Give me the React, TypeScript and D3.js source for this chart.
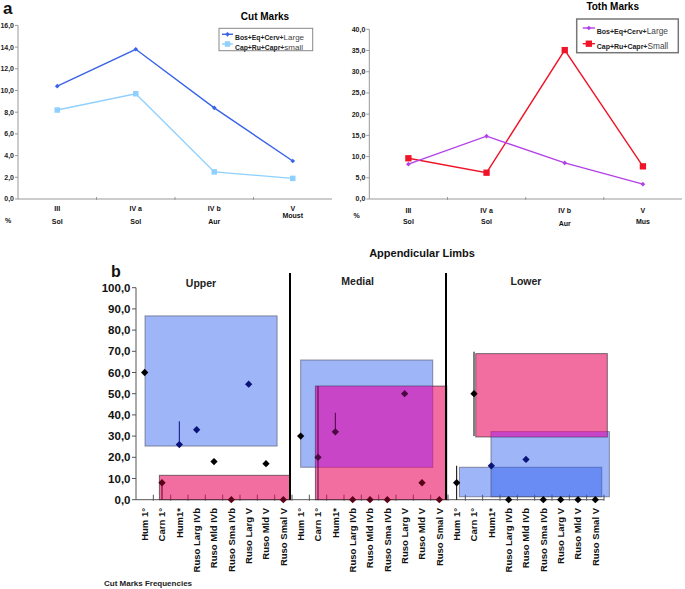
import React from "react";
import * as d3 from "d3";

// ---------- Data: top charts ----------
const periods = ["III", "IV a", "IV b", "V"];
const cutSites = ["Sol", "Sol", "Aur", "Moust"];
const tothSites = ["Sol", "Sol", "Aur", "Mus"];
const cutLarge = [10.4, 13.8, 8.4, 3.5];
const cutSmall = [8.2, 9.7, 2.5, 1.9];
const tothLarge = [8.2, 14.8, 8.5, 3.5];
const tothSmall = [9.6, 6.2, 35.1, 7.7];
const cutTicks = [0, 2, 4, 6, 8, 10, 12, 14, 16];
const tothTicks = [0, 5, 10, 15, 20, 25, 30, 35, 40];

// ---------- Data: appendicular limbs ----------
const limbCats = ["Hum 1°", "Carn 1°", "Hum1*", "Ruso Larg IVb", "Ruso Mld IVb", "Ruso Sma IVb", "Ruso Larg V", "Ruso Mld V", "Ruso Smal V"];
const limbGroups = ["Upper", "Medial", "Lower"];
const upperVals = [60, 8, 26, 33, 18, 0, 54.5, 17, 0];
const medialVals = [30, 20, 32, 0, 0, 0, 50, 8, 0];
const lowerVals = [8, 50, 16, 0, 19, 0, 0, 0, 0];
// whiskers: [category position index, low, high]
const whiskers: [number, number, number][] = [
  [1, 0, 8], [2, 26, 37], [10, 0, 53.6], [11, 32, 41], [18, 0, 16], [19, 30, 69.8],
];
// boxes: [start position, end position, low, high] (position in category units)
const blueBoxes: [number, number, number, number][] = [
  [0.52, 8.14, 25.3, 86.7],
  [9.5, 17.12, 15.3, 65.9],
  [18.66, 26.87, 1.4, 15.3],
  [20.48, 27.31, 1.4, 32.1],
];
const pinkBoxes: [number, number, number, number][] = [
  [1.35, 8.89, 0, 11.5],
  [10.35, 17.93, 0, 53.6],
  [19.6, 27.19, 29.6, 68.9],
];
const limbTicks = [0, 10, 20, 30, 40, 50, 60, 70, 80, 90, 100];

const FONT = "'Liberation Sans', Arial, sans-serif";
const fmt = (v: number) => v.toFixed(1).replace(".", ",");

const diamondType = {
  draw(ctx: any, size: number) {
    const r = Math.sqrt(size) / 1.6;
    ctx.moveTo(0, -r);
    ctx.lineTo(r, 0);
    ctx.lineTo(0, r);
    ctx.lineTo(-r, 0);
    ctx.closePath();
  },
};
const diamond = (size: number) => d3.symbol(diamondType as any, size)() || "";
const square = (size: number) => d3.symbol(d3.symbolSquare, size)() || "";

type LineChartProps = {
  x0: number; x1: number; yTop: number; yBot: number; max: number; ticks: number[];
  large: number[]; small: number[]; sites: string[];
  largeColor: string; smallColor: string; largeMarker: string; smallMarker: string;
  title: string; titleX: number; titleY: number;
  legend: { x0: number; x1: number; y0: number; y1: number; rows: number[]; lx0: number; lx1: number; tx: number; stroke: string; sw: number; smallLabel: string; boldSize: number; normSize: number };
  pct: [number, number]; row1: number; row2: number; special: Record<string, number>;
};

function LineChart(p: LineChartProps) {
  const x = d3.scaleBand<string>().domain(periods).range([p.x0, p.x1]);
  const y = d3.scaleLinear().domain([0, p.max]).range([p.yBot, p.yTop]);
  const cx = (c: string) => (x(c) as number) + x.bandwidth() / 2;
  const line = d3.line<number>().x((_, i) => cx(periods[i])).y((d) => y(d));
  const lg = p.legend;
  return (
    <g fontFamily={FONT}>
      <text x={p.titleX} y={p.titleY} fontSize={10} fontWeight="bold" textAnchor="middle">{p.title}</text>
      {/* y axis */}
      <line x1={p.x0} x2={p.x0} y1={y(p.max)} y2={y(0)} stroke="#999" />
      {p.ticks.map((t) => (
        <g key={t}>
          <line x1={p.x0 - 3} x2={p.x0} y1={y(t)} y2={y(t)} stroke="#999" />
          <text x={p.x0 - 4} y={y(t)} dy="0.35em" fontSize={7} fontWeight="bold" textAnchor="end" fill="#222">{fmt(t)}</text>
        </g>
      ))}
      {/* x axis */}
      <line x1={p.x0} x2={p.x1} y1={y(0)} y2={y(0)} stroke="#999" />
      {periods.slice(1).map((c) => (
        <line key={c} x1={x(c)} x2={x(c)} y1={y(0) - 2} y2={y(0) + 1} stroke="#999" />
      ))}
      {periods.map((c, i) => (
        <g key={c}>
          <text x={cx(c)} y={p.row1} fontSize={7} fontWeight="bold" textAnchor="middle" fill="#111">{c}</text>
          <text x={cx(c)} y={p.special[p.sites[i]] ?? p.row2} fontSize={7} fontWeight="bold" textAnchor="middle" fill="#111">{p.sites[i]}</text>
        </g>
      ))}
      <text x={p.pct[0]} y={p.pct[1]} fontSize={7} fontWeight="bold" textAnchor="middle" fill="#111">%</text>
      {/* series */}
      <path d={line(p.small) || ""} fill="none" stroke={p.smallColor} strokeWidth={1.4} />
      <path d={line(p.large) || ""} fill="none" stroke={p.largeColor} strokeWidth={1.4} />
      {p.small.map((v, i) => (
        <path key={"s" + i} transform={`translate(${cx(periods[i])},${y(v)})`} d={p.smallMarker} fill={p.smallColor} />
      ))}
      {p.large.map((v, i) => (
        <path key={"l" + i} transform={`translate(${cx(periods[i])},${y(v)})`} d={p.largeMarker} fill={p.largeColor} />
      ))}
      {/* legend */}
      <rect x={lg.x0} y={lg.y0} width={lg.x1 - lg.x0} height={lg.y1 - lg.y0} fill="white" stroke={lg.stroke} strokeWidth={lg.sw} />
      {[
        { c: p.largeColor, m: p.largeMarker, bold: "Bos+Eq+Cerv+", norm: "Large" },
        { c: p.smallColor, m: p.smallMarker, bold: "Cap+Ru+Capr+", norm: lg.smallLabel },
      ].map((r, i) => (
        <g key={i}>
          <line x1={lg.lx0} x2={lg.lx1} y1={lg.rows[i]} y2={lg.rows[i]} stroke={r.c} strokeWidth={1.4} />
          <path transform={`translate(${(lg.lx0 + lg.lx1) / 2},${lg.rows[i]})`} d={r.m} fill={r.c} />
          <text x={lg.tx} y={lg.rows[i]} dy="0.35em" fill="#222">
            <tspan fontSize={lg.boldSize} fontWeight="bold">{r.bold}</tspan>
            <tspan fontSize={lg.normSize} fill="#444">{r.norm}</tspan>
          </text>
        </g>
      ))}
    </g>
  );
}

function LimbChart() {
  const n = limbCats.length * limbGroups.length;
  const allCats = limbGroups.flatMap((g) => limbCats.map((c) => `${g}|${c}`));
  const xb = d3.scaleBand<string>().domain(allCats).range([136, 604]);
  const xp = d3.scaleLinear().domain([0, n]).range([136, 604]);
  const y = d3.scaleLinear().domain([0, 100]).range([499.7, 287.7]);
  const vals = [...upperVals, ...medialVals, ...lowerVals];
  const cx = (i: number) => (xb(allCats[i]) as number) + xb.bandwidth() / 2;
  const groupCenters = [201, 357.7, 526];
  const groupY = [287, 284.5, 284.5];
  const rect = (b: [number, number, number, number]) => ({ x: xp(b[0]), w: xp(b[1]) - xp(b[0]), y: y(b[3]), h: y(b[2]) - y(b[3]) });
  const inters: [number, number, number, number][] = [];
  pinkBoxes.forEach((p) =>
    blueBoxes.forEach((b) => {
      const s = Math.max(p[0], b[0]), e = Math.min(p[1], b[1]);
      const lo = Math.max(p[2], b[2]), hi = Math.min(p[3], b[3]);
      if (e > s && hi > lo) inters.push([s, e, lo, hi]);
    })
  );
  const inside = (boxes: [number, number, number, number][], pos: number, v: number) =>
    boxes.some((b) => pos > b[0] && pos < b[1] && v >= b[2] - 0.5 && v <= b[3]);
  const tint = (pos: number, v: number) =>
    inside(pinkBoxes, pos, v) ? (inside(blueBoxes, pos, v) ? "#4a0840" : "#5a0018") : inside(blueBoxes, pos, v) ? "#0a1478" : "#000";
  const dpath = diamond(34);
  return (
    <g fontFamily={FONT}>
      <text x={422} y={257} fontSize={11} fontWeight="bold" textAnchor="middle" fill="#111">Appendicular Limbs</text>
      <text x={111} y={276.5} fontSize={16} fontWeight="bold" fill="#111">b</text>
      {limbGroups.map((g, i) => (
        <text key={g} x={groupCenters[i]} y={groupY[i]} fontSize={10.5} fontWeight="bold" textAnchor="middle" fill="#222">{g}</text>
      ))}
      {/* y axis */}
      <line x1={136} x2={136} y1={y(100)} y2={y(0)} stroke="#555" />
      {limbTicks.map((t) => (
        <g key={t}>
          <line x1={132} x2={136} y1={y(t)} y2={y(t)} stroke="#555" />
          <text x={130.5} y={y(t)} dy="0.36em" fontSize={11.5} fontWeight="bold" textAnchor="end" fill="#111">{fmt(t)}</text>
        </g>
      ))}
      {/* x axis */}
      <line x1={136} x2={604} y1={y(0)} y2={y(0)} stroke="#555" />
      {d3.range(1, n + 1).map((i) => (
        <line key={i} x1={xp(i)} x2={xp(i)} y1={y(0) - 5} y2={y(0) + 1} stroke="#555" />
      ))}
      {allCats.map((c, i) => (
        <text key={c} transform={`translate(${cx(i)},508) rotate(-90)`} dy="0.35em" fontSize={9.5} fontWeight="bold" textAnchor="end" fill="#111">{c.split("|")[1]}</text>
      ))}
      {/* boxes */}
      {blueBoxes.map((b, i) => {
        const r = rect(b);
        return <rect key={"b" + i} x={r.x} y={r.y} width={r.w} height={r.h} fill="rgb(40,90,240)" fillOpacity={0.45} stroke="#445" strokeOpacity={0.55} />;
      })}
      {pinkBoxes.map((b, i) => {
        const r = rect(b);
        return <rect key={"k" + i} x={r.x} y={r.y} width={r.w} height={r.h} fill="rgb(232,0,90)" fillOpacity={0.57} stroke="#222" strokeOpacity={0.6} />;
      })}
      {inters.map((b, i) => {
        const r = rect(b);
        return <rect key={"i" + i} x={r.x} y={r.y} width={r.w} height={r.h} fill="rgb(200,60,240)" fillOpacity={0.5} />;
      })}
      {/* group separators */}
      {[9, 18].map((i) => (
        <line key={i} x1={xp(i) - 2} x2={xp(i) - 2} y1={273} y2={y(0)} stroke="#000" strokeWidth={2} />
      ))}
      {/* whiskers and points */}
      {whiskers.map((w, i) => (
        <line key={"w" + i} x1={cx(w[0])} x2={cx(w[0])} y1={y(w[1])} y2={y(w[2])} stroke={tint(w[0] + 0.5, (w[1] + w[2]) / 2)} strokeWidth={1} />
      ))}
      {vals.map((v, i) => (
        <path key={"p" + i} transform={`translate(${cx(i)},${y(v)})`} d={dpath} fill={tint(i + 0.5, v)} />
      ))}
      <text x={104} y={586} fontSize={8} fontWeight="bold" fill="#222">Cut Marks Frequencies</text>
    </g>
  );
}

export default function App() {
  return (
    <svg width={685} height={589} style={{ position: "absolute", left: 0, top: 0, background: "white" }}>
      <rect width={685} height={589} fill="white" />
      <text x={3} y={14} fontSize={17} fontWeight="bold" fontFamily={FONT} fill="#111">a</text>
      <LineChart
        x0={18} x1={332} yTop={25.4} yBot={199} max={16} ticks={cutTicks}
        large={cutLarge} small={cutSmall} sites={cutSites}
        largeColor="#3a63e8" smallColor="#8fd0ff" largeMarker={diamond(14)} smallMarker={square(30)}
        title="Cut Marks" titleX={265} titleY={20}
        legend={{ x0: 219, x1: 312.7, y0: 28.3, y1: 50.7, rows: [34.3, 44], lx0: 222, lx1: 233, tx: 235, stroke: "#888", sw: 1, smallLabel: "small", boldSize: 6.8, normSize: 8 }}
        pct={[8, 223]} row1={210.5} row2={223.5} special={{ Moust: 218 }}
      />
      <LineChart
        x0={369.3} x1={682} yTop={29.3} yBot={199} max={40} ticks={tothTicks}
        large={tothLarge} small={tothSmall} sites={tothSites}
        largeColor="#b440e8" smallColor="#f01428" largeMarker={diamond(14)} smallMarker={square(40)}
        title="Toth Marks" titleX={612.7} titleY={10}
        legend={{ x0: 576.7, x1: 678.3, y0: 19, y1: 52.7, rows: [28, 43.7], lx0: 582.7, lx1: 595, tx: 596.7, stroke: "#777", sw: 1.5, smallLabel: "Small", boldSize: 7, normSize: 8.3 }}
        pct={[356.7, 217.5]} row1={212.5} row2={223.5} special={{ Aur: 225.5 }}
      />
      <LimbChart />
    </svg>
  );
}
